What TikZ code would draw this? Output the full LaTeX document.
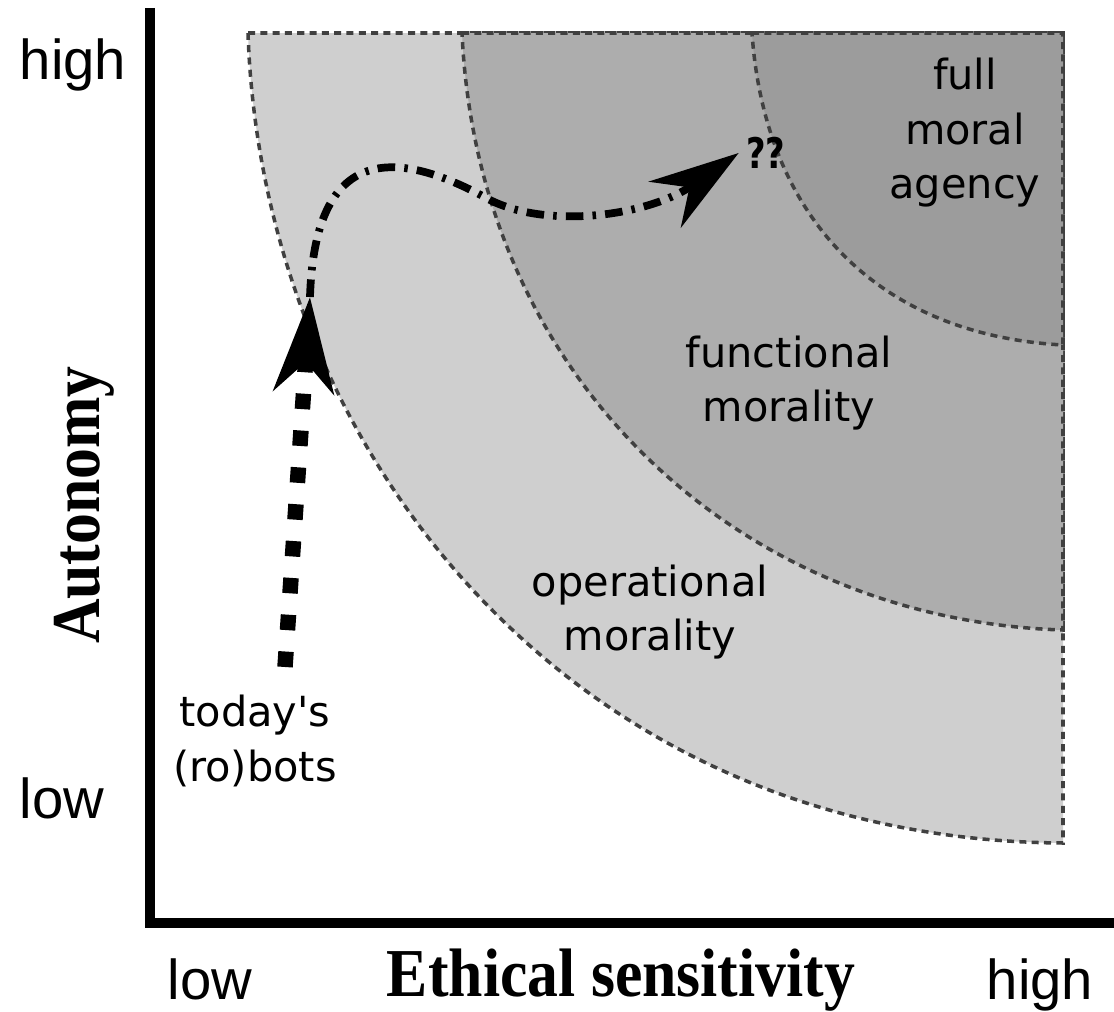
\documentclass[tikz,border=0pt]{standalone}
\usepackage{fontspec}
\setsansfont{DejaVu Sans}
\newfontfamily\tickfont{Liberation Sans}
\newfontfamily\axisfont[FakeStretch=0.9]{Liberation Serif}
\usetikzlibrary{arrows.meta}
\definecolor{zonelight}{gray}{0.81}
\definecolor{zonemid}{gray}{0.68}
\definecolor{zonedark}{gray}{0.61}
\tikzset{
x=0.01cm, y=-0.01cm, % one unit is one pixel of the sketch, y runs down
zone/.style={draw=black!75, line width=1pt, dash pattern=on 2pt off 1.5pt}, % dashed edge of a region
zonetext/.style={align=center, font=\sffamily\fontsize{11.8}{15.5}\selectfont}, % text inside the regions
ticktext/.style={font=\tickfont\fontsize{16}{19}\selectfont}, % low and high
axistext/.style={font=\axisfont\bfseries\fontsize{19.5}{22}\selectfont}, % names of the axes
nowpath/.style={line width=4.4pt, dash pattern=on 4.4pt off 6.1pt, -{Stealth[length=0.95cm, width=0.6cm, inset=0.3cm]}}, % thick square dashes
nextpath/.style={line width=2.2pt, dash pattern=on 5pt off 2.6pt on 1pt off 2.6pt, -{Stealth[length=0.9cm, width=0.56cm, inset=0.3cm]}}, % dash-dot curve
}

\begin{document}
\begin{tikzpicture}
  \useasboundingbox (0,0) rectangle (1114,1012);
  % the three regions
  \path[zone, fill=zonelight] (248,33) -- (1063,33) -- (1063,843) .. controls (570,840) and (262,450) .. cycle;
  \path[zone, fill=zonemid] (462,33) -- (1063,33) -- (1063,630) .. controls (740,620) and (478,380) .. cycle;
  \path[zone, fill=zonedark] (752,33) -- (1063,33) -- (1063,345) .. controls (880,335) and (765,220) .. cycle;
  % axes
  \draw[line width=2.7pt] (150,8) -- (150,923) -- (1114,923);
  \node[zonetext] (full) at (965,133) {full\\moral\\agency};
  \node[zonetext] (func) at (789,383) {functional\\morality};
  \node[zonetext] (oper) at (650,612) {operational\\morality};
  \node[zonetext] (today) at (255,741) {today\textquotesingle s\\(ro)bots};
  \node[font=\sffamily\bfseries\fontsize{12}{14}\selectfont, inner sep=2pt] (qq) at (766,153) {\scalebox{0.8}[1]{??}};
  \node[ticktext, anchor=base] (yhigh) at (73,79) {high};
  \node[ticktext, anchor=base] (ylow) at (62,818) {low};
  \node[ticktext, anchor=base] (xlow) at (210,999) {low};
  \node[ticktext, anchor=base] (xhigh) at (1040,999) {high};
  \node[axistext, anchor=base] (xname) at (621,996) {Ethical sensitivity};
  \node[axistext, anchor=base, rotate=90] (yname) at (100,505) {Autonomy};
  % the way ahead
  \coordinate (start) at (285,667);
  \coordinate (turn) at (310,297);
  \draw[nowpath] (start) -- (turn);
  \draw[nextpath] (turn) .. controls (315,140) and (400,150) .. (490,200)
    .. controls (550,230) and (650,215) .. (qq.west);
\end{tikzpicture}
\end{document}
